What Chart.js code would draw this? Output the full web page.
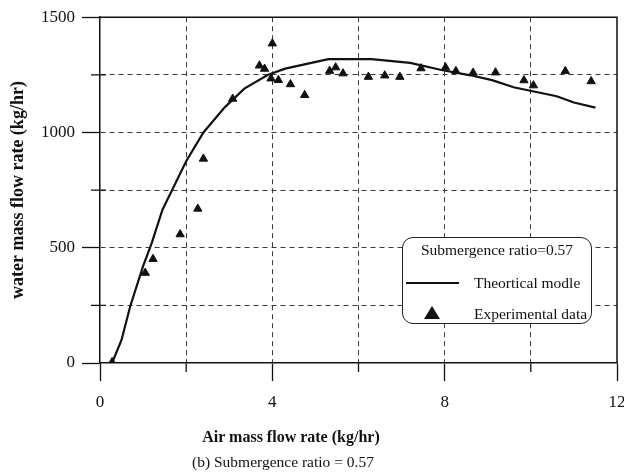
<!DOCTYPE html>
<html lang="en">
<head>
  <meta charset="UTF-8" />
  <title>Water mass flow rate vs air mass flow rate</title>
  <script src="https://cdn.jsdelivr.net/npm/chart.js"></script>
  <style>
    body {
      margin: 0;
      background: #fff;
      font-family: "Liberation Serif", "Times New Roman", serif;
      color: #111;
    }
    #wrap {
      position: relative;
      width: 624px;
      height: 476px;
      overflow: hidden;
    }
    canvas {
      position: absolute;
      left: 0;
      top: 0;
    }
    .legend-box {
      position: absolute;
      left: 402px;
      top: 237px;
      width: 188px;
      height: 85px;
      border: 1.3px solid #222;
      border-radius: 11px;
      background: #fff;
    }
    .legend-box div {
      position: absolute;
      white-space: nowrap;
      font-size: 15.5px;
      line-height: 18px;
      transform: translateY(-50%);
    }
    .legend-title { left: 0; right: 0; top: 12px; text-align: center; }
    .legend-line { left: 3px; top: 45px; width: 53px; height: 2px; background: #111; }
    .legend-tri {
      left: 21px;
      width: 0; height: 0;
      border-left: 8px solid transparent;
      border-right: 8px solid transparent;
      border-bottom: 13px solid #111;
    }
    .legend-text1 { left: 71px; top: 45px; }
    .legend-text2 { left: 71px; top: 76px; }
    .x-title {
      position: absolute;
      left: 0; width: 582px; top: 428px;
      text-align: center;
      font-weight: bold;
      font-size: 16px;
    }
    .caption {
      position: absolute;
      left: 0; width: 566px; top: 453px;
      text-align: center;
      font-size: 15.5px;
    }
  </style>
</head>
<body>
  <div id="wrap">
    <canvas id="flowChart" width="624" height="476"></canvas>
    <div class="legend-box">
      <div class="legend-title">Submergence ratio=0.57</div>
      <div class="legend-line"></div>
      <div class="legend-text1">Theortical modle</div>
      <div class="legend-tri" style="transform:none; top:68px;"></div>
      <div class="legend-text2">Experimental data</div>
    </div>
    <div class="x-title">Air mass flow rate (kg/hr)</div>
    <div class="caption">(b) Submergence ratio = 0.57</div>
  </div>

  <script>
    // experimental points (air kg/hr, water kg/hr)
    const expAir = [0.28, 1.05, 1.23, 1.86, 2.27, 2.40, 3.08, 3.70, 3.82, 3.97, 4.00, 4.14, 4.42, 4.75,
                    5.33, 5.47, 5.64, 6.23, 6.61, 6.96, 7.45, 8.02, 8.26, 8.66, 9.18, 9.84, 10.06, 10.80, 11.40];
    const expWater = [3, 391, 451, 558, 669, 886, 1146, 1290, 1276, 1234, 1386, 1227, 1209, 1162,
                      1267, 1282, 1256, 1241, 1247, 1241, 1278, 1282, 1266, 1259, 1260, 1226, 1204, 1266, 1222];

    // theoretical model curve
    const modelAir = [0.28, 0.5, 0.7, 1.0, 1.2, 1.45, 1.7, 2.0, 2.4, 2.9, 3.35, 3.9, 4.3, 5.3,
                      6.3, 7.2, 7.9, 8.6, 9.1, 9.6, 10.6, 11.0, 11.5];
    const modelWater = [0, 100, 245, 420, 520, 665, 760, 875, 1000, 1110, 1190, 1250, 1277, 1318,
                        1318, 1302, 1272, 1248, 1227, 1196, 1157, 1130, 1108];

    const xMajor = [0, 4, 8, 12];
    const yMajor = [0, 500, 1000, 1500];

    const serif = '"Liberation Serif", "Times New Roman", serif';
    const clear = 'rgba(0,0,0,0)';

    // top/right frame lines and the short minor tick marks
    const framePlugin = {
      id: 'frame',
      afterDraw(chart) {
        const { ctx, chartArea: a, scales: { x, y } } = chart;
        ctx.save();
        ctx.strokeStyle = '#111';
        ctx.lineWidth = 1.5;
        ctx.beginPath();
        ctx.moveTo(a.left, a.top);
        ctx.lineTo(a.right, a.top);
        ctx.lineTo(a.right, a.bottom);
        ctx.stroke();
        ctx.lineWidth = 1.3;
        ctx.beginPath();
        [2, 6, 10].forEach(v => {
          const px = x.getPixelForValue(v);
          ctx.moveTo(px, a.bottom);
          ctx.lineTo(px, a.bottom + 9);
        });
        [250, 750, 1250].forEach(v => {
          const py = y.getPixelForValue(v);
          ctx.moveTo(a.left - 9, py);
          ctx.lineTo(a.left + 6, py);
        });
        ctx.stroke();
        ctx.restore();
      }
    };

    new Chart(document.getElementById('flowChart'), {
      type: 'scatter',
      data: {
        datasets: [
          {
            label: 'Theortical modle',
            data: modelAir.map((v, i) => ({ x: v, y: modelWater[i] })),
            showLine: true,
            borderColor: '#111',
            borderWidth: 2.2,
            pointRadius: 0,
            tension: 0
          },
          {
            label: 'Experimental data',
            data: expAir.map((v, i) => ({ x: v, y: expWater[i] })),
            pointStyle: 'triangle',
            pointRadius: 4.8,
            backgroundColor: '#111',
            borderColor: '#111',
            borderWidth: 1
          }
        ]
      },
      options: {
        responsive: false,
        animation: false,
        layout: { padding: { top: 17, right: 7, left: 0, bottom: 0 } },
        plugins: {
          legend: { display: false },
          tooltip: { enabled: false }
        },
        scales: {
          x: {
            type: 'linear',
            min: 0,
            max: 12,
            afterFit: s => { s.height = 113; s.paddingLeft = 0; s.paddingRight = 0; },
            ticks: {
              stepSize: 2,
              autoSkip: false,
              maxRotation: 0,
              padding: 11,
              color: '#111',
              font: { family: serif, size: 17 },
              callback: v => xMajor.includes(v) ? v : ''
            },
            grid: {
              color: c => (c.tick && (c.tick.value === 0 || c.tick.value === 12)) ? clear : '#3a3a3a',
              lineWidth: 1,
              tickLength: 18,
              tickWidth: 1.3,
              tickColor: c => (c.tick && xMajor.includes(c.tick.value)) ? '#111' : clear
            },
            border: { color: '#111', width: 1.5, dash: [5, 4] }
          },
          y: {
            min: 0,
            max: 1500,
            afterFit: s => { s.width = 100; },
            ticks: {
              stepSize: 250,
              autoSkip: false,
              padding: 7,
              color: '#111',
              font: { family: serif, size: 17 },
              callback: v => yMajor.includes(v) ? v : ''
            },
            grid: {
              color: c => (c.tick && (c.tick.value === 0 || c.tick.value === 1500)) ? clear : '#3a3a3a',
              lineWidth: 1,
              tickLength: 18,
              tickWidth: 1.3,
              tickColor: c => (c.tick && yMajor.includes(c.tick.value)) ? '#111' : clear
            },
            border: { color: '#111', width: 1.5, dash: [5, 4] },
            title: {
              display: true,
              text: 'water mass flow rate (kg/hr)',
              color: '#111',
              font: { family: serif, size: 18, weight: 'bold' },
              padding: { top: 8, bottom: 0 }
            }
          }
        }
      },
      plugins: [framePlugin]
    });
  </script>
</body>
</html>
